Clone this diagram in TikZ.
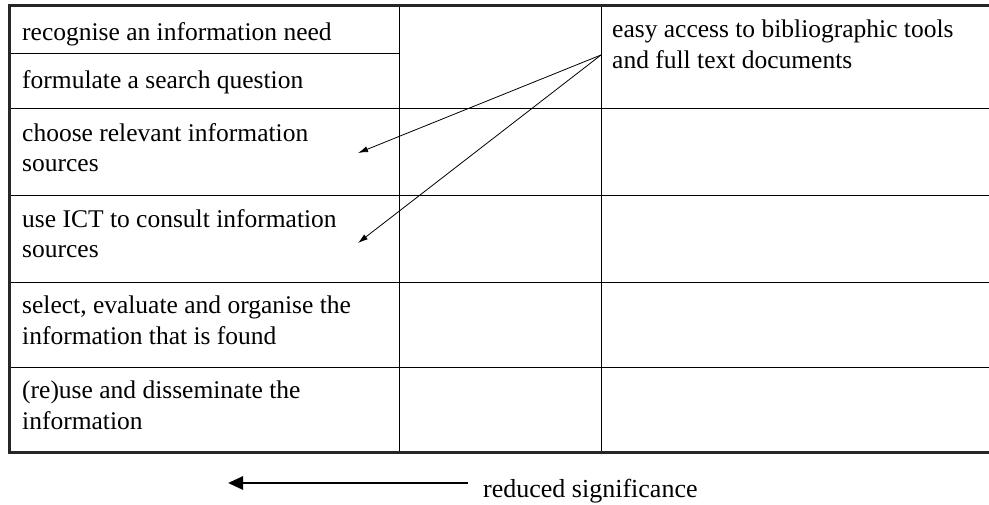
\documentclass[tikz,border=0pt]{standalone}
\usepackage{fontspec}
\setmainfont{Liberation Serif}
\usetikzlibrary{arrows.meta}

\begin{document}
\begin{tikzpicture}[x=1pt,y=-1pt,
  grid/.style={line width=1pt},
  frame/.style={line width=3pt, draw=black!85},
  cell/.style={anchor=north west, inner sep=0pt, align=left,
    font=\fontsize{25.5}{30.5}\selectfont, execute at begin node=\strut},
  link/.style={line width=0.8pt, -{Latex[length=10pt,width=6pt]}},
  bigarrow/.style={line width=2.7pt, -{Triangle[length=15pt,width=13pt]}}]
  \useasboundingbox (0,0) rectangle (989,504);
  % table
  \draw[grid] (9,53) -- (399,53);
  \foreach \y in {108,195,282,367}
    \draw[grid] (9,\y) -- (995,\y);
  \draw[grid] (399,5) -- (399,452);
  \draw[grid] (601,5) -- (601,452);
  \draw[frame] (995,5) -- (9,5) -- (9,452) -- (995,452);
  % first column
  \node[cell] (need) at (22,19) {recognise an information need};
  \node[cell] (question) at (22,67) {formulate a search question};
  \node[cell] (sources) at (22,123) {choose relevant information\\sources};
  \node[cell] (ict) at (22,209) {use ICT to consult information\\sources};
  \node[cell] (select) at (22,296) {select, evaluate and organise the\\information that is found};
  \node[cell] (reuse) at (22,381) {(re)use and disseminate the\\information};
  % third column
  \node[cell] (access) at (612,20) {easy access to bibliographic tools\\and full text documents};
  % links
  \coordinate (src) at (601,55);
  \coordinate (tip1) at (358,153);
  \coordinate (tip2) at (358,243);
  \draw[link] (src) -- (tip1);
  \draw[link] (src) -- (tip2);
  % significance
  \node[anchor=base west, inner sep=0pt, font=\fontsize{26}{30}\selectfont] (signif) at (483,497) {reduced significance};
  \coordinate (sigR) at (468,483);
  \coordinate (sigL) at (228,483);
  \draw[bigarrow] (sigR) -- (sigL);
\end{tikzpicture}
\end{document}
